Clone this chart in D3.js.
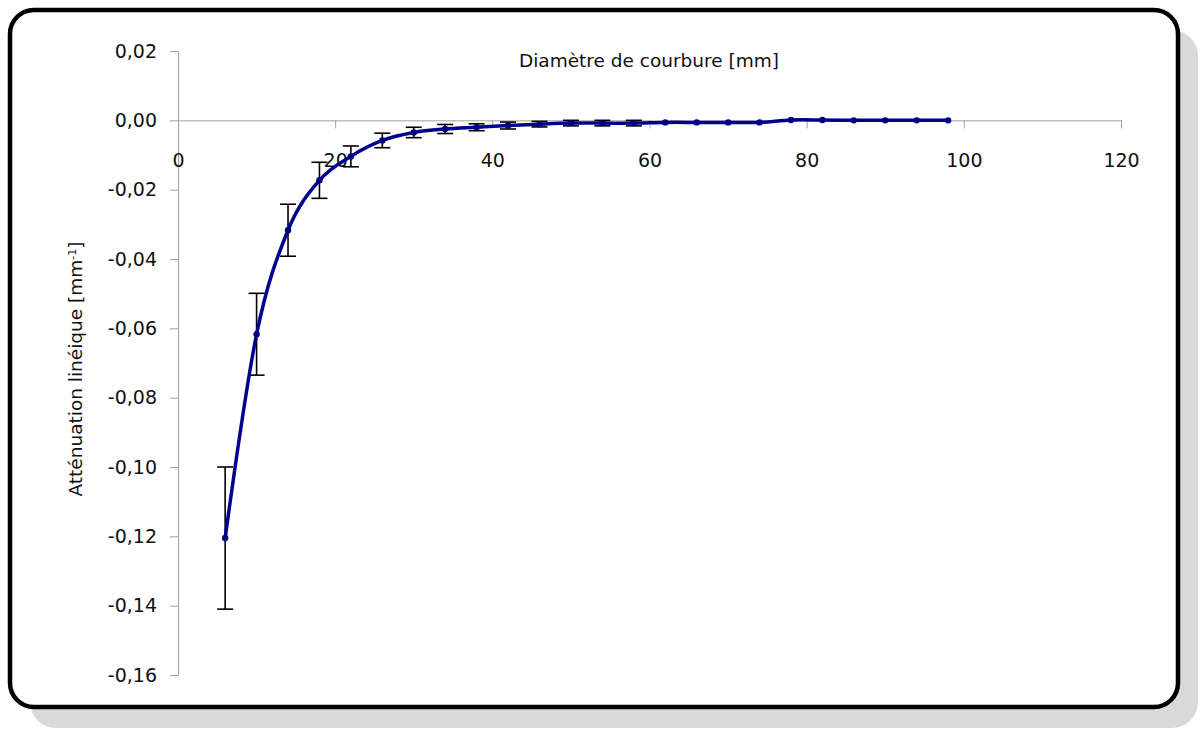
<!DOCTYPE html>
<html><head><meta charset="utf-8">
<script src="https://cdn.jsdelivr.net/npm/d3@7"></script>
<style>body{margin:0;background:#fff;} svg{display:block;} text{font-family:"DejaVu Sans",sans-serif;fill:#111;}</style>
</head><body>
<svg id="c" width="1200" height="731"></svg>
<script>
const diameters = [6,10,14,18,22,26,30,34,38,42,46,50,54,58,62,66,70,74,78,82,86,90,94,98];
const attenuation = [-0.1205,-0.0617,-0.0317,-0.0173,-0.0104,-0.0058,-0.0035,-0.0025,-0.0020,-0.0015,-0.0011,-0.0008,-0.0008,-0.0008,-0.0006,-0.0006,-0.0006,-0.0006,0.0001,0.0001,0.0000,0.0000,0.0000,0.0000];
const errors = [0.0205,0.0118,0.0075,0.0052,0.0030,0.0021,0.0015,0.0013,0.0010,0.0010,0.0008,0.0008,0.0008,0.0008,0.0,0.0,0.0,0.0,0.0,0.0,0.0,0.0,0.0,0.0];
const xTicks = [0,20,40,60,80,100,120];
const yTicks = [0.02,0,-0.02,-0.04,-0.06,-0.08,-0.10,-0.12,-0.14,-0.16];
const xTitle = "Diamètre de courbure [mm]";
const yTitle = "Atténuation linéique [mm";

const svg = d3.select("#c");
// shadow + frame
svg.append("rect").attr("x",30).attr("y",30).attr("width",1168).attr("height",698).attr("rx",26).attr("fill","#d9d9d9");
svg.append("rect").attr("x",10).attr("y",10).attr("width",1168).attr("height",697).attr("rx",24).attr("fill","#fff").attr("stroke","#000").attr("stroke-width",4.5);

const x = d3.scaleLinear().domain([0,120]).range([178,1121]);
const y = d3.scaleLinear().domain([-0.16,0.02]).range([675,51]);
const fmt = v => d3.format(".2f")(v).replace(".",",").replace("−","-");

// Y axis
const ya = svg.append("g").attr("transform",`translate(${x(0)},0)`).call(d3.axisLeft(y).tickValues(yTicks).tickSize(8).tickSizeOuter(0).tickFormat(fmt));
ya.select(".domain").attr("stroke","#a0a0a0");
ya.selectAll(".tick line").attr("stroke","#a0a0a0");
ya.selectAll(".tick text").attr("font-size",19).attr("x",-21).style("font-family","DejaVu Sans").attr("fill","#111");

// X axis at y=0
const xa = svg.append("g").attr("transform",`translate(0,${y(0)})`).call(d3.axisBottom(x).tickValues(xTicks).tickSize(8).tickSizeOuter(0).tickFormat(d3.format("d")));
xa.select(".domain").attr("stroke","#a0a0a0");
xa.selectAll(".tick line").attr("stroke","#a0a0a0");
xa.selectAll(".tick text").attr("font-size",19).attr("y",33).style("font-family","DejaVu Sans").attr("fill","#111");

// titles
svg.append("text").attr("x",649).attr("y",67).attr("text-anchor","middle").attr("font-size",18.5).text(xTitle);
const yt = svg.append("text").attr("transform","translate(82,369) rotate(-90)").attr("text-anchor","middle").attr("font-size",18.5);
yt.append("tspan").text(yTitle);
yt.append("tspan").attr("baseline-shift","super").attr("font-size",11).text("-1");
yt.append("tspan").text("]");

const data = diameters.map((d,i)=>({d, v:attenuation[i], e:errors[i]}));

// error bars
const eb = svg.append("g").attr("stroke","#000").attr("stroke-width",1.6);
data.filter(p=>p.e>0).forEach(p=>{
  const cx = x(p.d), y1 = y(p.v+p.e), y2 = y(p.v-p.e);
  eb.append("line").attr("x1",cx).attr("x2",cx).attr("y1",y1).attr("y2",y2);
  eb.append("line").attr("x1",cx-8).attr("x2",cx+8).attr("y1",y1).attr("y2",y1);
  eb.append("line").attr("x1",cx-8).attr("x2",cx+8).attr("y1",y2).attr("y2",y2);
});

// line
const line = d3.line().x(p=>x(p.d)).y(p=>y(p.v)).curve(d3.curveCardinal.tension(0));
svg.append("path").datum(data).attr("d",line).attr("fill","none").attr("stroke","#000090").attr("stroke-width",3.5);
svg.append("g").selectAll("circle").data(data).join("circle").attr("cx",p=>x(p.d)).attr("cy",p=>y(p.v)).attr("r",3.2).attr("fill","#000080");
</script>
</body></html>
